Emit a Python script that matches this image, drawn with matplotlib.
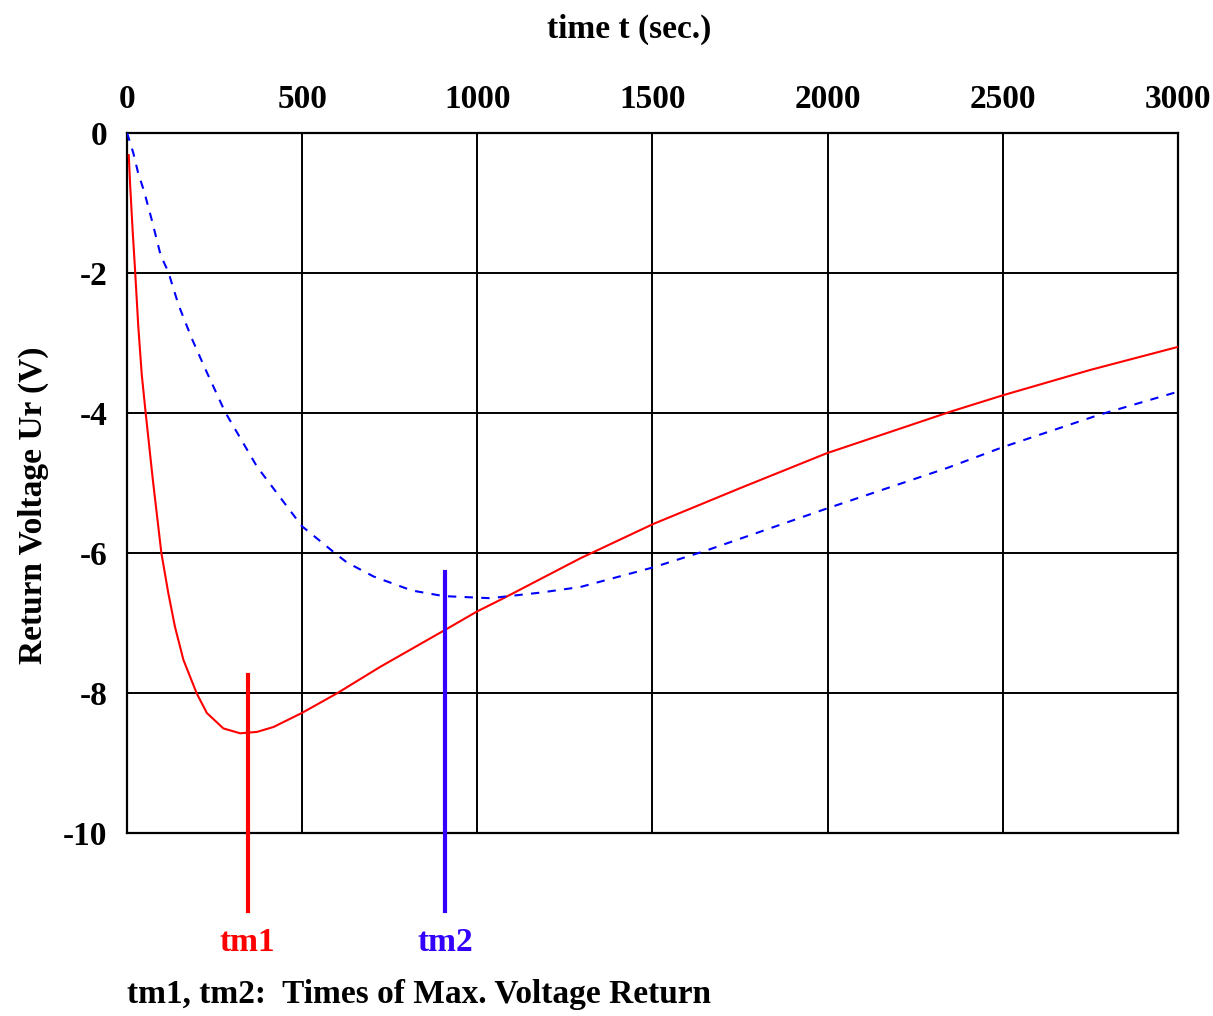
import matplotlib
matplotlib.use("Agg")
from matplotlib import pyplot as plt

# red curve
t_red = [5, 9, 16, 23, 32, 42, 53, 74, 98, 118, 137, 161, 199, 228, 275,
         323, 371, 418, 499, 599, 723, 909, 999, 1075, 1294, 1502, 1754, 1997,
         2354, 2501, 2749, 3000]
u_red = [-0.32, -0.75, -1.39, -1.96, -2.75, -3.45, -3.99, -4.97, -6.0,
         -6.58, -7.06, -7.53, -8.01, -8.29, -8.51, -8.58, -8.56, -8.49, -8.29,
         -8.01, -7.63, -7.1, -6.84, -6.65, -6.08, -5.59, -5.07, -4.58, -3.98,
         -3.75, -3.39, -3.06]

# blue dashed curve
t_blue = [0, 18, 32, 49, 72, 96, 118, 147, 185, 223, 280, 371, 499, 597, 628,
          704, 813, 904, 1037, 1180, 1294, 1502, 1653, 1997, 2341, 2501, 2775, 3000]
u_blue = [0, -0.29, -0.58, -0.84, -1.27, -1.75, -1.99, -2.46, -2.94, -3.37,
          -3.99, -4.77, -5.62, -6.02, -6.14, -6.34, -6.54, -6.62, -6.65, -6.57,
          -6.49, -6.21, -5.97, -5.37, -4.79, -4.49, -4.03, -3.70]

# times of max voltage return
tm_names = ["tm1", "tm2"]
tm_times = [344, 909]
tm_tops = [-7.75, -6.27]
tm_colors = ["#ff0000", "#3300ff"]

x_ticks = [0, 500, 1000, 1500, 2000, 2500, 3000]
y_ticks = [0, -2, -4, -6, -8, -10]

plt.rcParams["font.family"] = ["Liberation Serif", "DejaVu Serif"]
plt.rcParams["font.weight"] = "bold"

fig = plt.figure(figsize=(12.13, 10.16), dpi=100)
ax = fig.add_axes([0.1047, 0.1804, 0.8664, 0.689])

ax.plot(t_red, u_red, color="#ff0000", lw=1.5, zorder=3)
ax.plot(t_blue, u_blue, color="#0000ff", lw=1.5, dashes=(4, 4), zorder=3)

for name, t, top, c in zip(tm_names, tm_times, tm_tops, tm_colors):
    ax.plot([t, t], [top, -11.12], color=c, lw=3, clip_on=False, zorder=4)
    ax.text(t, -11.57, name, color=c, fontsize=24, fontweight="bold",
            ha="center", va="center", clip_on=False)

ax.set_xlim(0, 3000)
ax.set_ylim(-10, 0)
ax.set_xticks(x_ticks)
ax.set_yticks(y_ticks)
ax.set_yticklabels([str(v) for v in y_ticks])
ax.xaxis.tick_top()
ax.tick_params(length=0, labelsize=24)
ax.tick_params(axis="x", pad=13)
ax.tick_params(axis="y", pad=14)
ax.grid(True, color="black", lw=1.4)
for s in ax.spines.values():
    s.set_linewidth(1.6)
    s.set_color("black")

fig.text(0.519, 1 - 29 / 1016, "time t (sec.)", fontsize=24, fontweight="bold",
         ha="center", va="center")
fig.text(33 / 1213, 1 - 505 / 1016, "Return Voltage Ur (V)", fontsize=24,
         fontweight="bold", rotation=90, ha="center", va="center")
fig.text(127 / 1213, 1 - 994 / 1016, "tm1, tm2:  Times of Max. Voltage Return",
         fontsize=24, fontweight="bold", ha="left", va="center")

fig.savefig("out.png", dpi=100)
